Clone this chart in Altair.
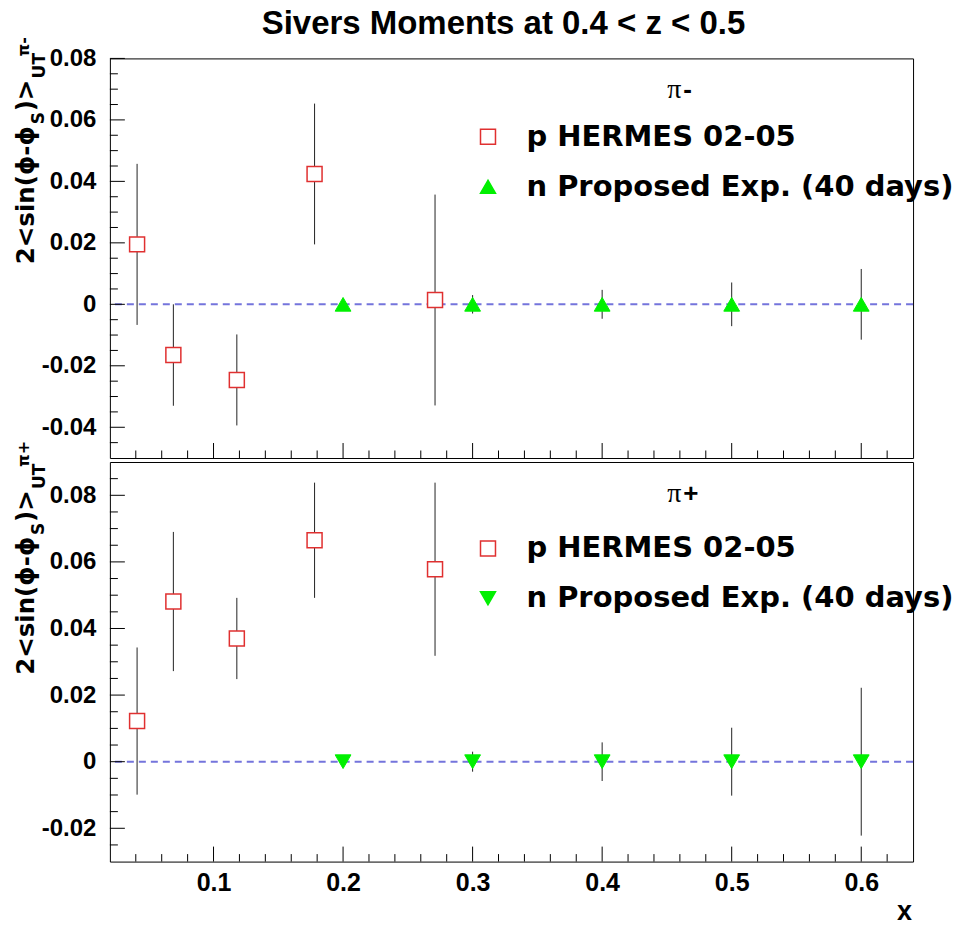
import altair as alt
import pandas as pd

# ---------------- data ----------------
TITLE = "Sivers Moments at 0.4 < z < 0.5"
LAB_P = "p HERMES 02-05"
LAB_N = "n Proposed Exp. (40 days)"

X_DOMAIN = [0.02, 0.64]
X_MAJOR = [0.1, 0.2, 0.3, 0.4, 0.5, 0.6]
X_MINOR = [round(0.02 * i, 2) for i in range(2, 32) if i % 5 != 0]

HERMES_X = [0.041, 0.069, 0.118, 0.178, 0.271]
PROP_X = [0.2, 0.3, 0.4, 0.5, 0.6]

# pi- panel
PIM_HERMES_Y = [0.0195, -0.0165, -0.0246, 0.0424, 0.0014]
PIM_HERMES_E = [0.0262, 0.0165, 0.0148, 0.0229, 0.0343]
PIM_PROP_Y = [0.0, 0.0, 0.0, 0.0, 0.0]
PIM_PROP_E = [0.0015, 0.0030, 0.0047, 0.0071, 0.0115]
TOP_Y_DOMAIN = [-0.05, 0.08]
TOP_Y_MAJOR = [-0.04, -0.02, 0.0, 0.02, 0.04, 0.06, 0.08]
TOP_Y_MINOR = [round(0.005 * i, 3) for i in range(-9, 16) if i % 4 != 0]

# pi+ panel
PIP_HERMES_Y = [0.0122, 0.0481, 0.0370, 0.0665, 0.0578]
PIP_HERMES_E = [0.0221, 0.0209, 0.0122, 0.0173, 0.0260]
PIP_PROP_Y = [0.0, 0.0, 0.0, 0.0, 0.0]
PIP_PROP_E = [0.0010, 0.0030, 0.0058, 0.0102, 0.0222]
BOT_Y_DOMAIN = [-0.03, 0.09]
BOT_Y_MAJOR = [-0.02, 0.0, 0.02, 0.04, 0.06, 0.08]
BOT_Y_MINOR = [round(0.005 * i, 3) for i in range(-5, 18) if i % 4 != 0]

# ---------------- styling ----------------
W, H = 804, 400
RED = "#e03030"
GREEN = "#00f000"
ZERO_COLOR = "#7474dc"
SANS = "Liberation Sans"
WIDE = "DejaVu Sans"
ONE = pd.DataFrame({"k": [0]})

Y_LABEL_EXPR = ("datum.value < 0 ? '-' + format(-datum.value, '.2~f') "
                ": format(datum.value, '.2~f')")


def txt(text, x, y, size, font=WIDE, weight="bold", angle=0, align="left",
        baseline="alphabetic"):
    return alt.Chart(ONE).mark_text(
        text=text, font=font, fontSize=size, fontWeight=weight, angle=angle,
        align=align, baseline=baseline, color="black"
    ).encode(x=alt.value(x), y=alt.value(y))


def panel(hy, he, py, pe, tri, ydom, ymajor, yminor, xlabels, main_y,
          sign, leg_y, extra):
    xs = alt.Scale(domain=X_DOMAIN, nice=False, zero=False)
    ys = alt.Scale(domain=ydom, nice=False, zero=False)
    if xlabels:
        xaxis = alt.Axis(values=X_MAJOR, format=".1f", ticks=False,
                         domain=False, grid=False, labelPadding=9,
                         labelFont=SANS, labelFontSize=25,
                         labelFontWeight="bold", labelColor="black",
                         title=None)
    else:
        xaxis = None
    yaxis = alt.Axis(values=ymajor, ticks=False, domain=False, grid=False,
                     labelPadding=14, labelExpr=Y_LABEL_EXPR, labelFont=SANS,
                     labelFontSize=24, labelFontWeight="bold",
                     labelColor="black", title=None)

    def X(f):
        return alt.X(f, type="quantitative", scale=xs, axis=xaxis)

    def Y(f):
        return alt.Y(f, type="quantitative", scale=ys, axis=yaxis)

    herm = pd.DataFrame({"x": HERMES_X, "y": hy, "e": he})
    herm["lo"] = herm["y"] - herm["e"]
    herm["hi"] = herm["y"] + herm["e"]
    herm["series"] = LAB_P
    prop = pd.DataFrame({"x": PROP_X, "y": py, "e": pe})
    prop["lo"] = prop["y"] - prop["e"]
    prop["hi"] = prop["y"] + prop["e"]
    prop["series"] = LAB_N

    legend = alt.Legend(orient="none", legendX=364, legendY=leg_y, title=None,
                        labelFont=WIDE, labelFontSize=29,
                        labelFontWeight="bold", labelColor="black",
                        labelLimit=0, labelOffset=24, rowPadding=20,
                        symbolSize=225, symbolStrokeWidth=1.5, padding=0,
                        offset=0)
    dom = [LAB_P, LAB_N]
    shape = alt.Shape("series:N", scale=alt.Scale(domain=dom, range=["square", tri]),
                      legend=legend)
    fill = alt.Fill("series:N", scale=alt.Scale(domain=dom, range=["white", GREEN]),
                    legend=legend)
    stroke = alt.Stroke("series:N", scale=alt.Scale(domain=dom, range=[RED, GREEN]),
                        legend=legend)

    zero = alt.Chart(pd.DataFrame({"y": [0.0]})).mark_rule(
        color=ZERO_COLOR, strokeWidth=2, strokeDash=[7, 5]
    ).encode(y=Y("y"))

    herr = alt.Chart(herm).mark_rule(color="#222222", strokeWidth=1).encode(
        x=X("x"), y=Y("lo"), y2="hi")
    perr = alt.Chart(prop).mark_rule(color="#222222", strokeWidth=1).encode(
        x=X("x"), y=Y("lo"), y2="hi")
    hpts = alt.Chart(herm).mark_point(size=225, opacity=1, filled=True,
                                      strokeWidth=1.5).encode(
        x=X("x"), y=Y("y"), shape=shape, fill=fill, stroke=stroke)
    ppts = alt.Chart(prop).mark_point(size=250, opacity=1, filled=True,
                                      strokeWidth=1).encode(
        x=X("x"), y=Y("y"), shape=shape, fill=fill, stroke=stroke)

    xmaj = alt.Chart(pd.DataFrame({"t": X_MAJOR})).mark_rule(
        color="black", strokeWidth=1).encode(
        x=X("t"), y=alt.value(H), y2=alt.value(H - 15))
    xmin = alt.Chart(pd.DataFrame({"t": X_MINOR})).mark_rule(
        color="black", strokeWidth=1).encode(
        x=X("t"), y=alt.value(H), y2=alt.value(H - 7.5))
    ymaj = alt.Chart(pd.DataFrame({"t": ymajor})).mark_rule(
        color="black", strokeWidth=1).encode(
        y=Y("t"), x=alt.value(0), x2=alt.value(15))
    ymin = alt.Chart(pd.DataFrame({"t": yminor})).mark_rule(
        color="black", strokeWidth=1).encode(
        y=Y("t"), x=alt.value(0), x2=alt.value(8))

    # y-axis title built from pieces (sub/superscripts), rotated
    ytitle = [
        txt("2<sin(\u03d5-\u03d5", -75.5, main_y, 24.5, angle=270),
        txt("S", -65.5, main_y - 140, 17, angle=270),
        txt(")>", -75.5, main_y - 153, 24.5, angle=270),
        txt("UT", -64.5, main_y - 186, 17, angle=270),
        txt("\u03c0" + sign, -80.5, main_y - 208, 16, angle=270),
    ]
    pilabel = [
        txt("\u03c0", 558, 40, 28, font="Liberation Serif", weight="normal"),
        txt(sign, 574, 40, 26, font=SANS),
    ]

    layers = [zero, herr, perr, hpts, ppts, xmaj, xmin, ymaj, ymin] + ytitle + pilabel + extra
    return alt.layer(*layers).properties(width=W, height=H)


# invisible (white) corner markers fixing the page extent
corner_tl = alt.Chart(ONE).mark_rule(color="white", strokeWidth=1).encode(
    x=alt.value(-108.5), x2=alt.value(-108.5), y=alt.value(-56.5), y2=alt.value(-55.5))
corner_br = alt.Chart(ONE).mark_rule(color="white", strokeWidth=1).encode(
    x=alt.value(W + 50), x2=alt.value(W + 50), y=alt.value(H + 62), y2=alt.value(H + 63))

top_extra = [
    txt(TITLE, W / 2 - 8, -24, 33, font=SANS, align="center"),
    corner_tl,
]
bot_extra = [
    txt("x", W - 1, H + 58, 27, font=SANS, align="right"),
    corner_br,
]

top = panel(PIM_HERMES_Y, PIM_HERMES_E, PIM_PROP_Y, PIM_PROP_E, "triangle-up",
            TOP_Y_DOMAIN, TOP_Y_MAJOR, TOP_Y_MINOR, False, 206, "-", 64, top_extra)
bot = panel(PIP_HERMES_Y, PIP_HERMES_E, PIP_PROP_Y, PIP_PROP_E, "triangle-down",
            BOT_Y_DOMAIN, BOT_Y_MAJOR, BOT_Y_MINOR, True, 213, "+", 72, bot_extra)

chart = alt.vconcat(top, bot, spacing=4, bounds="flush").resolve_scale(
    x="independent", y="independent", shape="independent",
    fill="independent", stroke="independent"
).resolve_legend(shape="independent", fill="independent", stroke="independent"
).properties(padding=0, background="white").configure_view(
    stroke="black", strokeWidth=1)

chart.save("out.html", embed_options={"renderer": "svg", "actions": False})
